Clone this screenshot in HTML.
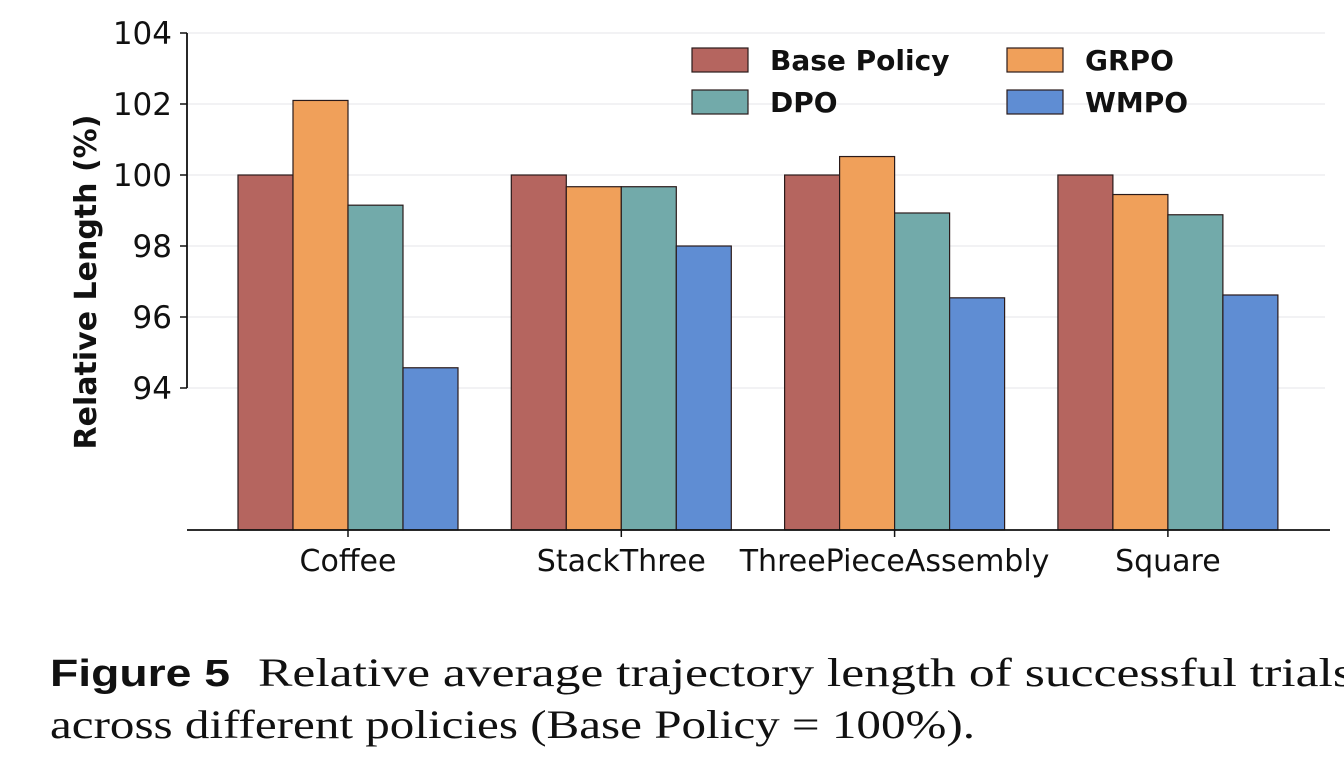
<!DOCTYPE html>
<html><head><meta charset="utf-8"><style>
body{margin:0;background:#fff;width:1344px;height:764px;overflow:hidden}
svg{display:block}
</style></head><body>
<svg id="c" width="1344" height="764">
</svg>
<script>
const categories=["Coffee","StackThree","ThreePieceAssembly","Square"];
const seriesNames=["Base Policy","GRPO","DPO","WMPO"];
const basePolicy=[100,100,100,100];
const grpo=[102.1,99.67,100.52,99.45];
const dpo=[99.15,99.67,98.93,98.88];
const wmpo=[94.57,98.0,96.54,96.62];
const yTicks=[94,96,98,100,102,104];
const series=[basePolicy,grpo,dpo,wmpo];
const colors=["#b5655f","#f0a05a","#72aaaa","#5f8dd3"];
const NS="http://www.w3.org/2000/svg";
const svg=document.getElementById('c');
const y=v=>175-(v-100)*35.5;
const groupCenter=i=>348+i*273.3;
const barW=55;
const SANS='DejaVu Sans, Liberation Sans, sans-serif';
function mk(t,a,p){const e=document.createElementNS(NS,t);for(const k in a)e.setAttribute(k,a[k]);(p||svg).appendChild(e);return e;}
yTicks.forEach(t=>{
 const g=mk('line',{x1:187,x2:1325,y1:y(t),y2:y(t),stroke:'#e4e6ea','stroke-width':1});
 
 
 const tk=mk('line',{x1:180,x2:187,y1:y(t),y2:y(t),stroke:'#111','stroke-width':1.5});
 
 
 const l=mk('text',{x:172,y:y(t)+11,'text-anchor':'end','font-family':SANS,'font-size':31,fill:'#111'});
 l.textContent=t;
 
 
});
categories.forEach((c,i)=>{
 series.forEach((s,j)=>{
  const x=groupCenter(i)-2*barW+j*barW;
  const b=mk('rect',{x:x,y:y(s[i]),width:barW,height:530-y(s[i]),fill:colors[j],stroke:'#2a1a1a','stroke-width':1.2});
  
  
 });
 const tk=mk('line',{x1:groupCenter(i),x2:groupCenter(i),y1:530,y2:537,stroke:'#111','stroke-width':1.5});
 
 
 const l=mk('text',{x:groupCenter(i),y:571,'text-anchor':'middle','font-family':SANS,'font-size':30,fill:'#111'});
 l.textContent=c;
 
 
});
const sp=mk('line',{x1:187,x2:187,y1:y(104),y2:y(94),stroke:'#111','stroke-width':1.8});


const bl=mk('line',{x1:187,x2:1330,y1:530,y2:530,stroke:'#111','stroke-width':1.8});


const yt=mk('text',{x:0,y:0,transform:'translate(96,282) rotate(-90)','text-anchor':'middle','font-family':SANS,'font-size':30,'font-weight':'bold',fill:'#111'});
yt.textContent='Relative Length (%)';


const lx=[692,1007], ly=[48,90];
seriesNames.forEach((n,j)=>{
 const px=lx[j%2], py=ly[Math.floor(j/2)];
 const r=mk('rect',{x:px,y:py,width:56,height:24,fill:colors[j],stroke:'#2a1a1a','stroke-width':1.2});
 
 
 const t=mk('text',{x:px+78,y:py+22,'font-family':SANS,'font-size':28,'font-weight':'bold',fill:'#111'});
 t.textContent=n;
 
 
});
const capA=mk('text',{x:50,y:686,'font-size':38,'font-family':'Liberation Sans, sans-serif','font-weight':'bold',fill:'#111',textLength:180,lengthAdjust:'spacingAndGlyphs'});
capA.textContent='Figure 5';


const cap1=mk('text',{x:258,y:686,'font-size':40,'font-family':'Liberation Serif, serif',fill:'#111',textLength:1095,lengthAdjust:'spacingAndGlyphs'});
cap1.textContent='Relative average trajectory length of successful trials';


const cap2=mk('text',{x:50,y:738,'font-size':40,fill:'#111','font-family':'Liberation Serif, serif',textLength:925,lengthAdjust:'spacingAndGlyphs'});
cap2.textContent='across different policies (Base Policy = 100%).';


</script>
</body></html>
